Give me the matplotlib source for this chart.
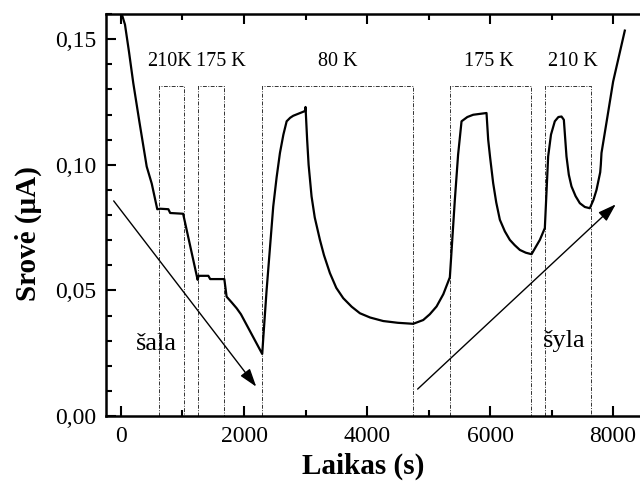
import matplotlib
matplotlib.use("Agg")
import matplotlib.pyplot as plt
from matplotlib.ticker import MultipleLocator, FuncFormatter

plt.rcParams['font.family'] = ['Liberation Serif', 'DejaVu Serif']

# measured current vs time
time = [0, 65, 130, 200, 300, 418, 500, 590, 640, 770, 800, 1010, 1246, 1262, 1420,
        1450, 1680, 1717, 1800, 1880, 1950, 2296, 2313, 2367, 2475, 2530, 2584,
        2640, 2693, 2750, 2800, 2963, 2995, 3000, 3026, 3050, 3098, 3150, 3234,
        3300, 3396, 3500, 3613, 3750, 3884, 4050, 4263, 4500, 4750, 4913, 5020,
        5130, 5240, 5346, 5427, 5480, 5536, 5630, 5725, 5942, 5969, 6000, 6050,
        6100, 6159, 6240, 6321, 6400, 6484, 6580, 6674, 6809, 6890, 6944, 6990,
        7052, 7110, 7161, 7199, 7242, 7280, 7323, 7390, 7459, 7540, 7621, 7680,
        7730, 7790, 7800, 7811, 7900, 8000, 8190]
current = [0.161, 0.1558, 0.145, 0.1325, 0.117, 0.0993, 0.0925, 0.0823, 0.0825,
           0.0823, 0.0808, 0.0805, 0.0542, 0.0558, 0.0558, 0.0545, 0.0545, 0.0475,
           0.0452, 0.0429, 0.0405, 0.0247, 0.031, 0.050, 0.0834, 0.095, 0.1047,
           0.112, 0.1173, 0.1187, 0.1195, 0.1211, 0.1215, 0.1230, 0.110, 0.100,
           0.0874, 0.079, 0.0701, 0.064, 0.0569, 0.051, 0.0469, 0.0435, 0.0409,
           0.0392, 0.0378, 0.0371, 0.0367, 0.0382, 0.0405, 0.0436, 0.0485, 0.0552,
           0.086, 0.104, 0.1173, 0.119, 0.1199, 0.1206, 0.110, 0.103, 0.0927, 0.085,
           0.0781, 0.0735, 0.0701, 0.068, 0.0661, 0.065, 0.0644, 0.0701, 0.0748,
           0.1033, 0.112, 0.1173, 0.119, 0.1192, 0.1179, 0.1033, 0.096, 0.0914,
           0.0875, 0.0847, 0.0832, 0.0827, 0.086, 0.090, 0.097, 0.1000, 0.1047,
           0.118, 0.1331, 0.1534]

# temperature windows
box_left = [622, 1251, 2297, 5341, 6885]
box_right = [1029, 1679, 4750, 6663, 7638]
box_top = 0.1315
box_labels = ["210K", "175 K", "80 K", "175 K", "210 K"]
label_x = [788, 1627, 3527, 5988, 7345]

fig = plt.figure(figsize=(6.4, 4.9), dpi=100)
ax = fig.add_axes([0.165, 0.151, 0.855, 0.8204])

for l, r in zip(box_left, box_right):
    ax.plot([l, l, r, r], [0, box_top, box_top, 0], color="0.2", lw=0.7,
            linestyle=(0, (4, 1.5, 1, 1.5)), zorder=1)
for txt, x in zip(box_labels, label_x):
    ax.text(x, 0.141, txt, ha="center", va="center", fontsize=14.5)

ax.plot(time, current, color="black", lw=1.6, zorder=3)

ax.annotate("", xy=(2226, 0.0108), xytext=(-146, 0.0865),
            arrowprops=dict(arrowstyle="-|>,head_length=0.55,head_width=0.18",
                            color="black", lw=1.0, mutation_scale=20))
ax.annotate("", xy=(8076, 0.085), xytext=(4789, 0.00996),
            arrowprops=dict(arrowstyle="-|>,head_length=0.55,head_width=0.18",
                            color="black", lw=1.0, mutation_scale=20))
ax.text(578, 0.0263, "šala", ha="center", va="baseline", fontsize=19)
ax.text(7200, 0.0275, "šyla", ha="center", va="baseline", fontsize=19)

ax.set_xlim(-250, 8645)
ax.set_ylim(0, 0.16)
ax.xaxis.set_major_locator(MultipleLocator(2000))
ax.xaxis.set_minor_locator(MultipleLocator(1000))
ax.yaxis.set_major_locator(MultipleLocator(0.05))
ax.yaxis.set_minor_locator(MultipleLocator(0.01))
ax.yaxis.set_major_formatter(FuncFormatter(lambda v, p: f"{v:.2f}".replace(".", ",")))
ax.tick_params(which="both", direction="in", top=True, right=True, width=1.5)
ax.tick_params(which="major", length=7, labelsize=17, pad=7)
ax.tick_params(which="minor", length=4)
for s in ax.spines.values():
    s.set_linewidth(1.8)

ax.set_xlabel("Laikas (s)", fontsize=21, fontweight="bold", va="center")
ax.xaxis.set_label_coords(0.47, -0.124)
ax.set_ylabel("Srovė (μA)", fontsize=21, fontweight="bold", va="center")
ax.yaxis.set_label_coords(-0.142, 0.455)

fig.savefig("out.png", dpi=100)
